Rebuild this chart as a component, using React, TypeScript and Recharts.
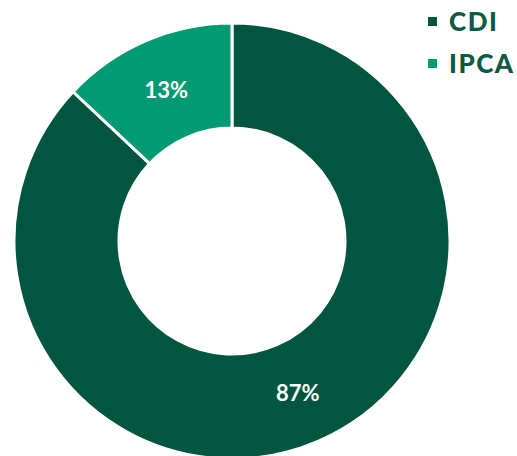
import { PieChart, Pie, Cell, Legend } from "recharts";

const categories = ["CDI", "IPCA"];
const shares = [87, 13];
const colors = ["#02553F", "#029A73"];

const data = categories.map((name, i) => ({ name, value: shares[i] }));

const RADIAN = Math.PI / 180;

function renderLabel(props: any) {
  const { cx, cy, midAngle, innerRadius, outerRadius, value } = props;
  const r = (innerRadius + outerRadius) / 2;
  const x = cx + r * Math.cos(-midAngle * RADIAN);
  const y = cy + r * Math.sin(-midAngle * RADIAN);
  return (
    <text
      x={x}
      y={y}
      fill="#ffffff"
      textAnchor="middle"
      dominantBaseline="central"
      fontSize={22}
      fontWeight={700}
      fontFamily="Lato, 'Open Sans', sans-serif"
    >
      {value}%
    </text>
  );
}

function renderLegend() {
  return (
    <div style={{ fontFamily: "Lato, 'Open Sans', sans-serif" }}>
      {data.map((d, i) => (
        <div
          key={d.name}
          style={{
            display: "flex",
            alignItems: "center",
            height: 42,
            fontSize: 26,
            fontWeight: 900,
            color: "#0B5A43",
            letterSpacing: 1.5,
          }}
        >
          <span
            style={{
              display: "inline-block",
              width: 9,
              height: 9,
              background: colors[i],
              marginRight: 12,
            }}
          />
          {d.name}
        </div>
      ))}
    </div>
  );
}

export default function App() {
  return (
    <div style={{ position: "absolute", left: 0, top: 0, width: 517, height: 456, background: "#fff" }}>
      <PieChart width={517} height={456} margin={{ top: 0, right: 0, bottom: 0, left: 0 }}>
        <Pie
          data={data}
          dataKey="value"
          nameKey="name"
          cx={232}
          cy={241}
          innerRadius={113}
          outerRadius={218}
          startAngle={90}
          endAngle={-270}
          stroke="#ffffff"
          strokeWidth={3}
          label={renderLabel}
          labelLine={false}
          isAnimationActive={false}
        >
          {data.map((d, i) => (
            <Cell key={d.name} fill={colors[i]} />
          ))}
        </Pie>
        <Legend
          content={renderLegend}
          wrapperStyle={{ position: "absolute", left: 428, top: 0, width: 100 }}
        />
      </PieChart>
    </div>
  );
}
